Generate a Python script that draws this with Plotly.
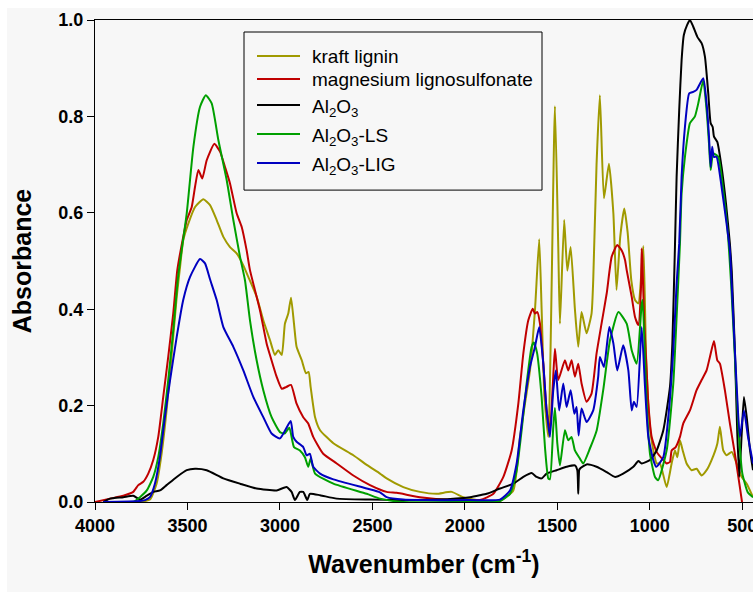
import plotly.graph_objects as go

# ---------------- data (wavenumber cm^-1, absorbance) ----------------
kraft_w = [3757, 3703, 3667, 3640, 3613, 3585, 3558, 3540, 3523, 3495, 3459, 3414, 3378, 3342, 3306,
           3270, 3234, 3198, 3171, 3126, 3090, 3054, 3027, 3009, 2990, 2973, 2955, 2940, 2924, 2910,
           2882, 2859, 2845, 2834, 2810, 2783, 2711, 2603, 2531, 2459, 2423, 2333, 2243, 2153, 2072,
           2009, 1936, 1850, 1810, 1738, 1702, 1675, 1648, 1621, 1598, 1585, 1570, 1549, 1513, 1495,
           1486, 1463, 1446, 1428, 1405, 1387, 1369, 1342, 1315, 1306, 1288, 1270, 1248, 1221, 1197,
           1180, 1160, 1138, 1120, 1100, 1080, 1062, 1035, 1020, 1000, 981, 963, 945, 909, 882,
           864, 851, 837, 822, 801, 774, 747, 720, 693, 666, 635, 621, 603, 585, 557, 531, 503, 476, 442]
kraft_a = [0.0, 0.005, 0.038, 0.1, 0.19, 0.308, 0.426, 0.488, 0.543, 0.578, 0.612, 0.628, 0.616, 0.585, 0.55,
           0.529, 0.516, 0.491, 0.467, 0.426, 0.377, 0.336, 0.305, 0.315, 0.305, 0.37, 0.391, 0.424, 0.37, 0.322,
           0.294, 0.267, 0.27, 0.239, 0.176, 0.149, 0.122, 0.097, 0.077, 0.059, 0.049, 0.031, 0.021, 0.017, 0.021,
           0.01, 0.004, 0.0, 0.002, 0.024, 0.135, 0.204, 0.273, 0.398, 0.545, 0.4, 0.22, 0.135, 0.821, 0.529,
           0.37, 0.585, 0.48, 0.529, 0.40, 0.322, 0.394, 0.35, 0.391, 0.46, 0.70, 0.844, 0.63, 0.702, 0.599,
           0.44, 0.55, 0.609, 0.56, 0.46, 0.419, 0.412, 0.531, 0.30, 0.16, 0.107, 0.08, 0.08, 0.031, 0.08,
           0.107, 0.093, 0.128, 0.107, 0.08, 0.066, 0.069, 0.055, 0.066, 0.087, 0.121, 0.156, 0.107, 0.097, 0.104, 0.08, 0.052, 0.038, 0.01]

mgls_w = [4000, 3919, 3847, 3793, 3766, 3739, 3712, 3685, 3658, 3631, 3604, 3577, 3555, 3523, 3504,
          3477, 3459, 3441, 3420, 3396, 3355, 3324, 3297, 3270, 3234, 3207, 3180, 3162, 3108, 3072,
          3054, 3018, 2990, 2964, 2940, 2910, 2874, 2847, 2820, 2766, 2693, 2603, 2513, 2423, 2369,
          2243, 2063, 1918, 1846, 1792, 1747, 1711, 1684, 1657, 1633, 1621, 1608, 1594, 1576, 1558,
          1540, 1525, 1513, 1495, 1459, 1441, 1423, 1405, 1387, 1369, 1342, 1315, 1288, 1261, 1233,
          1206, 1176, 1152, 1134, 1125, 1098, 1080, 1062, 1048, 1044, 1040, 1030, 1017, 1008, 990,
          963, 927, 909, 891, 882, 860, 837, 819, 783, 747, 720, 693, 675, 653, 635,
          621, 594, 567, 540, 513, 495, 480]
mgls_a = [0.0, 0.007, 0.013, 0.021, 0.035, 0.042, 0.059, 0.087, 0.135, 0.218, 0.301, 0.391, 0.481, 0.55, 0.585,
          0.612, 0.654, 0.689, 0.671, 0.709, 0.743, 0.727, 0.695, 0.661, 0.599, 0.571, 0.522, 0.481, 0.398, 0.329,
          0.305, 0.26, 0.235, 0.239, 0.243, 0.204, 0.176, 0.163, 0.135, 0.1, 0.08, 0.055, 0.035, 0.021, 0.019,
          0.01, 0.004, 0.004, 0.017, 0.052, 0.107, 0.204, 0.308, 0.377, 0.401, 0.391, 0.394, 0.37, 0.287, 0.19,
          0.149, 0.239, 0.318, 0.253, 0.294, 0.273, 0.294, 0.26, 0.287, 0.246, 0.208, 0.225, 0.308, 0.37, 0.433,
          0.509, 0.533, 0.522, 0.502, 0.481, 0.426, 0.384, 0.367, 0.44, 0.526, 0.50, 0.37, 0.273, 0.204, 0.135,
          0.104, 0.087, 0.08, 0.083, 0.107, 0.114, 0.135, 0.163, 0.19, 0.232, 0.253, 0.273, 0.301, 0.334, 0.294,
          0.287, 0.232, 0.163, 0.1, 0.031, -0.017, -0.05]

al2o3_w = [3955, 3919, 3847, 3793, 3757, 3720, 3685, 3649, 3613, 3558, 3504, 3459, 3396, 3306, 3216,
           3126, 3018, 2964, 2937, 2919, 2892, 2874, 2852, 2838, 2783, 2693, 2513, 2333, 2153, 1972,
           1918, 1882, 1810, 1738, 1684, 1639, 1612, 1585, 1558, 1504, 1450, 1405, 1392, 1387, 1382,
           1378, 1342, 1288, 1233, 1188, 1144, 1089, 1062, 1044, 999, 963, 927, 891, 878, 864,
           855, 841, 828, 816, 798, 783, 765, 743, 720, 702, 684, 671, 660, 653, 635,
           612, 588, 567, 557, 540, 527, 516, 503, 491, 476, 458, 442]
al2o3_a = [0.0, 0.007, 0.01, 0.013, 0.005, 0.013, 0.021, 0.024, 0.035, 0.052, 0.066, 0.069, 0.066, 0.049, 0.038,
           0.028, 0.024, 0.031, 0.021, 0.004, 0.021, 0.021, 0.004, 0.017, 0.014, 0.007, 0.005, 0.004, 0.005, 0.01,
           0.014, 0.017, 0.028, 0.038, 0.052, 0.06, 0.052, 0.049, 0.059, 0.066, 0.073, 0.076, 0.066, 0.017, 0.066,
           0.069, 0.078, 0.073, 0.062, 0.052, 0.059, 0.073, 0.085, 0.08, 0.087, 0.107, 0.149, 0.239, 0.33, 0.53,
           0.675, 0.813, 0.917, 0.969, 0.99, 1.0, 0.986, 0.965, 0.952, 0.924, 0.848, 0.786, 0.778, 0.758, 0.747,
           0.695, 0.619, 0.536, 0.48, 0.315, 0.142, 0.052, 0.142, 0.218, 0.176, 0.107, 0.066]

ls_w = [3955, 3793, 3757, 3720, 3685, 3658, 3631, 3604, 3577, 3550, 3504, 3468, 3432, 3401, 3369,
        3333, 3288, 3252, 3216, 3189, 3162, 3126, 3090, 3045, 3000, 2975, 2949, 2924, 2892, 2865,
        2847, 2834, 2810, 2711, 2531, 2459, 2333, 2000, 1850, 1810, 1756, 1720, 1693, 1666, 1639,
        1627, 1610, 1585, 1567, 1549, 1540, 1522, 1513, 1500, 1486, 1459, 1441, 1423, 1405, 1378,
        1360, 1324, 1287, 1252, 1215, 1170, 1125, 1098, 1071, 1044, 1039, 1017, 999, 972, 955,
        909, 873, 855, 837, 828, 810, 783, 756, 738, 711, 693, 680, 671, 657, 630,
        603, 581, 560, 540, 520, 500, 470, 442]
ls_a = [0.0, 0.0, 0.01, 0.024, 0.052, 0.093, 0.163, 0.253, 0.356, 0.47, 0.599, 0.737, 0.82, 0.844, 0.827,
        0.751, 0.668, 0.585, 0.509, 0.46, 0.377, 0.294, 0.232, 0.176, 0.145, 0.142, 0.154, 0.114, 0.107, 0.093,
        0.073, 0.09, 0.059, 0.038, 0.017, 0.007, 0.0, 0.0, 0.0, 0.002, 0.017, 0.066, 0.149, 0.246, 0.322,
        0.331, 0.31, 0.218, 0.114, 0.049, 0.047, 0.156, 0.195, 0.121, 0.076, 0.149, 0.128, 0.135, 0.107, 0.09,
        0.08, 0.111, 0.149, 0.232, 0.336, 0.394, 0.37, 0.315, 0.287, 0.41, 0.419, 0.204, 0.1, 0.052, 0.045,
        0.107, 0.246, 0.384, 0.536, 0.64, 0.716, 0.786, 0.8, 0.827, 0.875, 0.813, 0.744, 0.689, 0.723, 0.716,
        0.647, 0.571, 0.45, 0.30, 0.15, 0.06, 0.02, 0.01]

lig_w = [3955, 3760, 3730, 3703, 3676, 3649, 3622, 3594, 3558, 3523, 3486, 3432, 3405, 3378, 3342,
         3306, 3252, 3198, 3144, 3090, 3045, 3000, 2942, 2928, 2910, 2874, 2856, 2838, 2820, 2783,
         2711, 2531, 2459, 2423, 2333, 1972, 1810, 1756, 1720, 1684, 1648, 1621, 1598, 1576, 1558,
         1540, 1522, 1508, 1490, 1468, 1450, 1428, 1408, 1396, 1385, 1369, 1342, 1306, 1279, 1270,
         1248, 1219, 1197, 1176, 1144, 1116, 1098, 1086, 1071, 1044, 1026, 1008, 981, 965, 927,
         900, 873, 855, 841, 828, 810, 787, 765, 747, 711, 693, 680, 671, 663, 653,
         639, 612, 585, 567, 549, 531, 513, 491, 469, 442]
lig_a = [0.0, 0.002, 0.004, 0.01, 0.038, 0.093, 0.176, 0.253, 0.343, 0.419, 0.467, 0.504, 0.495, 0.462, 0.419,
         0.363, 0.322, 0.273, 0.218, 0.176, 0.142, 0.132, 0.168, 0.135, 0.125, 0.114, 0.097, 0.1, 0.073, 0.059,
         0.047, 0.028, 0.02, 0.01, 0.005, 0.004, 0.005, 0.024, 0.08, 0.19, 0.28, 0.322, 0.363, 0.287, 0.19,
         0.135, 0.232, 0.273, 0.19, 0.246, 0.197, 0.232, 0.183, 0.197, 0.138, 0.194, 0.166, 0.19, 0.26, 0.301,
         0.28, 0.363, 0.329, 0.273, 0.325, 0.273, 0.19, 0.208, 0.197, 0.363, 0.239, 0.135, 0.087, 0.073, 0.093,
         0.176, 0.315, 0.453, 0.536, 0.675, 0.778, 0.848, 0.851, 0.855, 0.879, 0.827, 0.758, 0.695, 0.737, 0.716,
         0.716, 0.654, 0.578, 0.522, 0.384, 0.246, 0.135, 0.19, 0.135, 0.08]

series_names = ["kraft lignin", "magnesium lignosulfonate", "Al<sub>2</sub>O<sub>3</sub>",
                "Al<sub>2</sub>O<sub>3</sub>-LS", "Al<sub>2</sub>O<sub>3</sub>-LIG"]
series_colors = ["#a09a00", "#c00000", "#000000", "#00a000", "#0000c0"]
series_x = [kraft_w, mgls_w, al2o3_w, ls_w, lig_w]
series_y = [kraft_a, mgls_a, al2o3_a, ls_a, lig_a]

x_ticks = [4000, 3500, 3000, 2500, 2000, 1500, 1000, 500]
y_ticks = [0.0, 0.2, 0.4, 0.6, 0.8, 1.0]

FONT = "Liberation Sans, Arial, sans-serif"
BG = "#f7f7f7"

# plot-area geometry (pixels) used to place the hand-built legend
L, T, W, H = 95, 20, 658, 481.7


def px(xpix):
    return (xpix - L) / W


def py(ypix):
    return (T + H - ypix) / H


fig = go.Figure()
for name, color, xs, ys in zip(series_names, series_colors, series_x, series_y):
    fig.add_trace(go.Scatter(x=xs, y=ys, mode="lines", name=name, showlegend=False,
                             line=dict(color=color, width=2, shape="spline", smoothing=0.5)))

# legend box, sample lines and labels
shapes = [dict(type="rect", xref="paper", yref="paper", x0=px(7), x1=1.0, y0=py(592), y1=py(8),
               fillcolor=BG, line=dict(width=0), layer="below"),
          dict(type="rect", xref="paper", yref="paper", x0=px(244), x1=px(542), y0=py(190), y1=py(32),
               fillcolor=BG, line=dict(color="black", width=1), layer="above")]
annotations = []
legend_rows = [56, 79, 105, 134, 163]
legend_shift = [0, 0, -3, -3, -3]
for name, color, row, sh in zip(series_names, series_colors, legend_rows, legend_shift):
    shapes.append(dict(type="line", xref="paper", yref="paper", x0=px(257), x1=px(300),
                       y0=py(row), y1=py(row), line=dict(color=color, width=2), layer="above"))
    annotations.append(dict(xref="paper", yref="paper", x=px(310), y=py(row), text=name,
                            xanchor="left", yanchor="middle", showarrow=False, yshift=sh,
                            font=dict(size=19, family=FONT, color="black")))

fig.update_layout(
    width=753, height=592,
    margin=dict(l=95, r=0, t=20, b=90, autoexpand=False),
    paper_bgcolor="white", plot_bgcolor=BG,
    font=dict(family=FONT, color="black"),
    showlegend=False,
    shapes=shapes,
    annotations=annotations,
)

fig.update_xaxes(range=[4000, 442], tickmode="array", tickvals=x_ticks,
                 ticktext=[str(v) for v in x_ticks], ticklabeloverflow="allow", automargin=False,
                 ticks="outside", ticklen=7, tickwidth=1, tickcolor="black",
                 showline=True, linecolor="black", linewidth=1, mirror=True,
                 showgrid=False, zeroline=False,
                 tickfont=dict(size=18, family=FONT, weight="bold"),
                 title=dict(text="Wavenumber (cm<sup>-1</sup>)", standoff=20,
                            font=dict(size=25, family=FONT, weight="bold")))
fig.update_yaxes(range=[0, 1.0], tickmode="array", tickvals=y_ticks,
                 ticktext=[f"{v:.1f}" for v in y_ticks], automargin=False,
                 ticks="outside", ticklen=7, tickwidth=1, tickcolor="black",
                 showline=True, linecolor="black", linewidth=1, mirror=False,
                 showgrid=False, zeroline=False,
                 tickfont=dict(size=18, family=FONT, weight="bold"),
                 title=dict(text="Absorbance", standoff=19,
                            font=dict(size=25, family=FONT, weight="bold")))

fig.write_html("out.html")
